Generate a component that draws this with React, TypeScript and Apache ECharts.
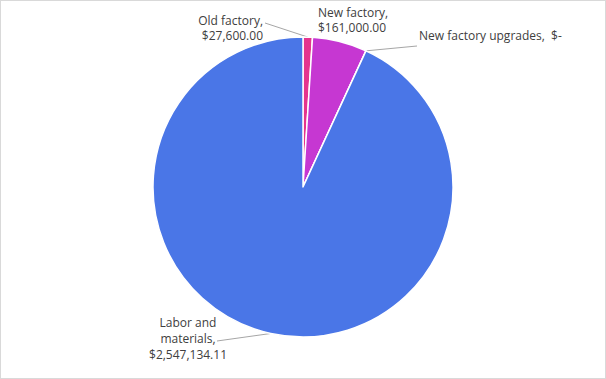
import React, { useEffect, useRef } from "react";
import * as echarts from "echarts";

const categories = ["Old factory", "New factory", "New factory upgrades", "Labor and materials"];
const values = [27600, 161000, 0, 2547134.11];
const labelTexts = [
  "Old factory,\n$27,600.00",
  "New factory,\n$161,000.00",
  "New factory upgrades,  $-",
  "Labor and\nmaterials,\n$2,547,134.11",
];
const colors = ["#E5348E", "#C637D2", "#F0A030", "#4A76E7"];

// label placement (x, y, align) and line end offsets
const labelPos: [number, number, "left" | "right" | "center"][] = [
  [262, 27, "right"],
  [317, 19, "left"],
  [418, 34, "left"],
  [187, 337, "center"],
];
const labelLineHeights = [15, 15, 15, 16];
const lineEnds: (number[] | null)[] = [
  [264, 22],
  null,
  [416, 45],
  [216, 340],
];

export default function App() {
  const ref = useRef<HTMLDivElement>(null);
  useEffect(() => {
    document.body.style.margin = "0";
    const chart = echarts.init(ref.current!, undefined, { renderer: "svg" });
    chart.setOption({
      animation: false,
      series: [
        {
          type: "pie",
          center: [302, 186],
          radius: 150,
          startAngle: 90,
          clockwise: true,
          avoidLabelOverlap: false,
          itemStyle: { borderColor: "#fff", borderWidth: 1.5 },
          label: {
            show: true,
            position: "outside",
            fontFamily: "'Open Sans', sans-serif",
            fontSize: 12,
            lineHeight: 15,
            color: "#404040",
            formatter: (p: any) => labelTexts[p.dataIndex],
          },
          labelLine: {
            show: true,
            length: 10,
            length2: 10,
            smooth: false,
            lineStyle: { color: "#a6a6a6", width: 1 },
          },
          labelLayout: (p: any) => {
            const i = p.dataIndex;
            const [x, y, align] = labelPos[i];
            const res: any = { x, y, align, verticalAlign: "middle" };
            const anchor = p.labelLinePoints ? p.labelLinePoints[0] : null;
            if (lineEnds[i] && anchor) {
              res.labelLinePoints = [anchor, lineEnds[i], lineEnds[i]];
            }
            return res;
          },
          data: categories.map((c, i) => ({
            name: c,
            value: values[i],
            itemStyle: { color: colors[i] },
            label: { lineHeight: labelLineHeights[i] },
            labelLine: { show: lineEnds[i] !== null },
          })),
        },
      ],
    });
    return () => chart.dispose();
  }, []);
  return (
    <div
      style={{
        width: 606,
        height: 379,
        border: "1px solid #d9d9d9",
        boxSizing: "border-box",
        background: "#fff",
      }}
    >
      <div ref={ref} style={{ width: 604, height: 377 }} />
    </div>
  );
}
